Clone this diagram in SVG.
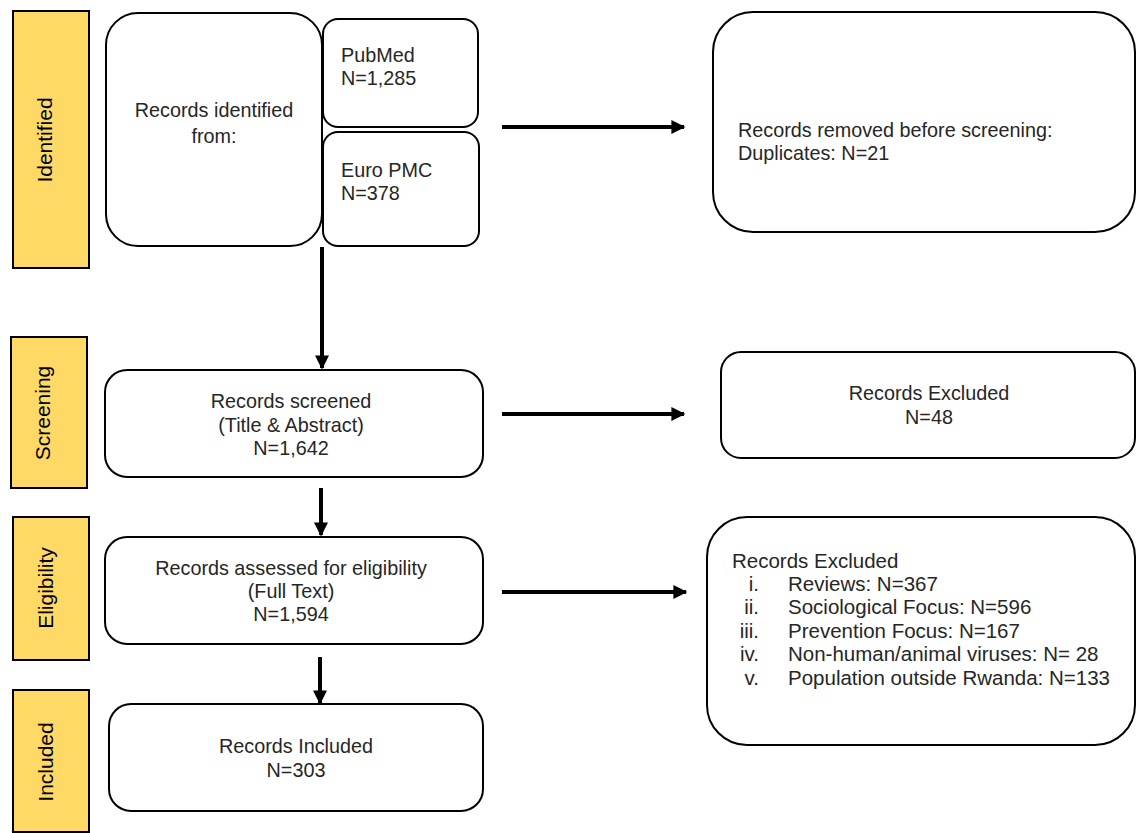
<svg xmlns="http://www.w3.org/2000/svg" width="1136" height="833" viewBox="0 0 1136 833">
<style>
.bar{fill:#FFD966;stroke:#000;stroke-width:2}
.box{fill:#fff;stroke:#000;stroke-width:2}
text{font-family:"Liberation Sans",Arial,sans-serif;font-size:19.8px;fill:#262626}
.c{text-anchor:middle}
.r{text-anchor:end}
.lg{font-size:20.5px}
.bl{fill:#000;font-size:21px}
.conn{stroke:#000;stroke-width:4;fill:none}
</style>
<defs>
<marker id="ah" viewBox="0 0 10 10" refX="9" refY="5" markerWidth="4" markerHeight="3.5" orient="auto" markerUnits="strokeWidth">
<path d="M0,0 L10,5 L0,10 Z" fill="#000"/>
</marker>
</defs>
<rect width="1136" height="833" fill="#fff"/>

<g id="phase-identified"><rect class="bar" x="13" y="11" width="76" height="257"/><text class="c bl" transform="translate(52,140) rotate(-90)">Identified</text></g>
<g id="phase-screening"><rect class="bar" x="11" y="337" width="76" height="151"/><text class="c bl" transform="translate(50,413) rotate(-90)">Screening</text></g>
<g id="phase-eligibility"><rect class="bar" x="13" y="517" width="76" height="143"/><text class="c bl" transform="translate(53,588) rotate(-90)">Eligibility</text></g>
<g id="phase-included"><rect class="bar" x="13" y="690" width="76" height="142"/><text class="c bl" transform="translate(53,762) rotate(-90)">Included</text></g>

<g id="identified"><rect class="box" x="106" y="13" width="216" height="233" rx="32"/><text class="c" x="214" y="117">Records identified</text><text class="c" x="214" y="143">from:</text></g>
<g id="pubmed"><rect class="box" x="323" y="19" width="155" height="108" rx="15"/><text x="341" y="62">PubMed</text><text x="341" y="85">N=1,285</text></g>
<g id="europmc"><rect class="box" x="323" y="132" width="156" height="114" rx="15"/><text x="341" y="177">Euro PMC</text><text x="341" y="200">N=378</text></g>
<g id="duplicates"><rect class="box" x="713" y="12" width="422" height="220" rx="40"/><text x="738" y="137">Records removed before screening:</text><text x="738" y="160">Duplicates: N=21</text></g>

<g id="screened"><rect class="box" x="105" y="370" width="378" height="107" rx="22"/><text class="c" x="291" y="408">Records screened</text><text class="c" x="291" y="432">(Title &amp; Abstract)</text><text class="c" x="291" y="455">N=1,642</text></g>
<g id="excluded1"><rect class="box" x="721" y="352" width="414" height="106" rx="20"/><text class="c" x="929" y="400">Records Excluded</text><text class="c" x="929" y="424">N=48</text></g>

<g id="eligibility"><rect class="box" x="105" y="537" width="378" height="107" rx="22"/><text class="c" x="291" y="575">Records assessed for eligibility</text><text class="c" x="291" y="598">(Full Text)</text><text class="c" x="291" y="621">N=1,594</text></g>
<g id="excluded2"><rect class="box" x="707" y="517" width="428" height="228" rx="40"/>
<text class="lg" x="732" y="568">Records Excluded</text>
<text class="r lg" x="759" y="591">i.</text><text class="lg" x="788" y="591">Reviews: N=367</text>
<text class="r lg" x="759" y="614">ii.</text><text class="lg" x="788" y="614">Sociological Focus: N=596</text>
<text class="r lg" x="759" y="638">iii.</text><text class="lg" x="788" y="638">Prevention Focus: N=167</text>
<text class="r lg" x="759" y="661">iv.</text><text class="lg" x="788" y="661">Non-human/animal viruses: N= 28</text>
<text class="r lg" x="759" y="685">v.</text><text class="lg" x="788" y="685">Population outside Rwanda: N=133</text>
</g>

<g id="included"><rect class="box" x="109" y="704" width="374" height="107" rx="22"/><text class="c" x="296" y="753">Records Included</text><text class="c" x="296" y="777">N=303</text></g>

<g id="connectors">
<line class="conn" x1="502" y1="127" x2="684" y2="127" marker-end="url(#ah)"/>
<line class="conn" x1="322" y1="247" x2="322" y2="368" marker-end="url(#ah)"/>
<line class="conn" x1="502" y1="414" x2="684" y2="414" marker-end="url(#ah)"/>
<line class="conn" x1="321" y1="488" x2="321" y2="535" marker-end="url(#ah)"/>
<line class="conn" x1="502" y1="592" x2="686" y2="592" marker-end="url(#ah)"/>
<line class="conn" x1="320" y1="657" x2="320" y2="703" marker-end="url(#ah)"/>
</g>
</svg>
